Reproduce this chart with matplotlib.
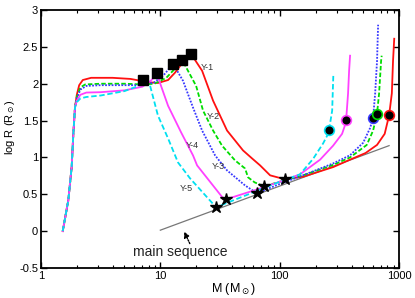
import numpy as np
import matplotlib
matplotlib.use("Agg")
import matplotlib.pyplot as plt

plt.rcParams['font.family'] = ['Liberation Sans', 'DejaVu Sans']

# ---- data (log10 of mass in Msun, log10 R in Rsun) ----
rise_logM = [0.182, 0.229, 0.257, 0.271, 0.285]
rise_logR = [0.0, 0.42, 0.87, 1.32, 1.68]

y1_logM = rise_logM + [0.30, 0.32, 0.35, 0.42, 0.60, 0.75, 0.90, 0.98, 1.065, 1.123, 1.165, 1.21, 1.257,
                       1.35, 1.442, 1.559, 1.693, 1.769, 1.836, 1.92, 2.045,
                       2.2, 2.45, 2.59, 2.72, 2.816, 2.88, 2.917, 2.94, 2.95, 2.96]
y1_logR = rise_logR + [1.85, 1.98, 2.05, 2.08, 2.08, 2.065, 2.02, 2.01, 2.05, 2.15, 2.24, 2.34, 2.405,
                       2.176, 1.77, 1.365, 1.095, 0.986, 0.892, 0.757, 0.703,
                       0.74, 0.87, 0.97, 1.06, 1.17, 1.32, 1.57, 1.87, 2.31, 2.61]

y2_logM = rise_logM + [0.30, 0.33, 0.37, 0.50, 0.70, 0.85, 0.95, 1.05, 1.12, 1.182,
                       1.30, 1.358, 1.442, 1.517, 1.626, 1.71, 1.735, 1.79, 1.869,
                       2.0, 2.2, 2.45, 2.59, 2.73, 2.783, 2.816, 2.833, 2.85, 2.855]
y2_logR = rise_logR + [1.82, 1.95, 1.99, 2.0, 2.0, 1.99, 2.0, 2.08, 2.2, 2.325,
                       1.97, 1.635, 1.365, 1.16, 0.96, 0.85, 0.73, 0.662, 0.608,
                       0.67, 0.76, 0.90, 1.0, 1.17, 1.365, 1.595, 1.865, 2.31, 2.38]

y3_logM = rise_logM + [0.30, 0.33, 0.38, 0.50, 0.70, 0.85, 0.95, 1.03, 1.107,
                       1.19, 1.274, 1.35, 1.459, 1.559, 1.71, 1.81,
                       2.0, 2.2, 2.45, 2.59, 2.70, 2.758, 2.783, 2.80, 2.816, 2.825]
y3_logR = rise_logR + [1.80, 1.92, 1.97, 1.98, 1.98, 1.98, 2.02, 2.12, 2.27,
                       2.04, 1.676, 1.365, 1.027, 0.824, 0.62, 0.514,
                       0.64, 0.76, 0.92, 1.03, 1.2, 1.4, 1.54, 1.865, 2.31, 2.80]

y4_logM = rise_logM + [0.30, 0.33, 0.38, 0.50, 0.70, 0.85, 0.92, 0.972,
                       1.006, 1.065, 1.174, 1.274, 1.308, 1.526, 1.551,
                       1.8, 2.0, 2.17, 2.339, 2.448, 2.523, 2.548, 2.557, 2.573, 2.582, 2.59]
y4_logR = rise_logR + [1.77, 1.85, 1.88, 1.885, 1.91, 1.96, 2.04, 2.135,
                       1.97, 1.70, 1.34, 1.027, 0.892, 0.446, 0.432,
                       0.56, 0.67, 0.77, 0.97, 1.16, 1.32, 1.44, 1.51, 1.865, 2.18, 2.38]

y5_logM = rise_logM + [0.30, 0.33, 0.38, 0.50, 0.70, 0.80, 0.855,
                       0.914, 0.98, 1.065, 1.148, 1.249, 1.467,
                       1.8, 2.0, 2.17, 2.28, 2.364, 2.406, 2.414, 2.44, 2.45]
y5_logR = rise_logR + [1.75, 1.80, 1.82, 1.84, 1.90, 1.96, 2.05,
                       1.973, 1.568, 1.257, 0.932, 0.716, 0.324,
                       0.54, 0.67, 0.77, 0.98, 1.19, 1.32, 1.378, 1.635, 2.135]

square_logM = [0.855, 0.972, 1.107, 1.182, 1.257]
square_logR = [2.054, 2.149, 2.27, 2.325, 2.405]

star_logM = [1.467, 1.551, 1.81, 1.869, 2.045]
star_logR = [0.324, 0.432, 0.514, 0.608, 0.703]

circle_logM = [2.414, 2.557, 2.783, 2.816, 2.917]
circle_logR = [1.378, 1.51, 1.54, 1.595, 1.57]
circle_colors = ['#00e0f0', '#ff40ff', '#3838ff', '#00dd00', '#ff1010']

ms_logM = [1.0, 2.917]
ms_logR = [0.013, 1.16]

series = [
    ('Y-1', y1_logM, y1_logR, '#ff1010', '-'),
    ('Y-2', y2_logM, y2_logR, '#00dd00', (0, (2.5, 1.2))),
    ('Y-3', y3_logM, y3_logR, '#3838ff', (0, (1, 0.8))),
    ('Y-4', y4_logM, y4_logR, '#ff40ff', '-'),
    ('Y-5', y5_logM, y5_logR, '#00e0f0', (0, (3, 1.5))),
]
label_pos = {'Y-1': (1.39, 2.216), 'Y-2': (1.44, 1.554), 'Y-3': (1.484, 0.878),
             'Y-4': (1.266, 1.16), 'Y-5': (1.215, 0.58)}

fig = plt.figure(figsize=(4.15, 2.98), dpi=100)
ax = fig.add_axes([41/415, 30/298, 358/415, 258/298])

ax.plot(10**np.array(ms_logM), ms_logR, color='#777777', lw=0.9, zorder=1)

for name, lm, lr, c, ls in series:
    ax.plot(10**np.array(lm), lr, color=c, ls=ls, lw=1.3, zorder=2)
    tx, ty = label_pos[name]
    ax.text(10**tx, ty, name, fontsize=6.5, ha='center', va='center', color='#333333', zorder=5)

ax.plot(10**np.array(square_logM), square_logR, 'ks', ms=7, zorder=4)
ax.plot(10**np.array(star_logM), star_logR, 'k*', ms=9, zorder=4)
for lm, lr, c in zip(circle_logM, circle_logR, circle_colors):
    ax.plot(10**lm, lr, 'o', mfc='k', mec=c, ms=7, mew=1.2, zorder=4)

ax.annotate('', xy=(10**1.19, 0.027), xytext=(10**1.257, -0.203),
            arrowprops=dict(arrowstyle='-|>', ls=(0, (1, 1)), color='k', lw=1, mutation_scale=8))
ax.text(10**1.165, -0.284, 'main sequence', fontsize=10, ha='center', va='center', color='#222222')

ax.set_xscale('log')
ax.set_xlim(1, 1000)
ax.set_ylim(-0.5, 3)
ax.set_xticks([1, 10, 100, 1000])
ax.set_xticklabels(['1', '10', '100', '1000'])
ax.set_yticks([-0.5, 0, 0.5, 1, 1.5, 2, 2.5, 3])
ax.set_yticklabels(['-0.5', '0', '0.5', '1', '1.5', '2', '2.5', '3'])
ax.tick_params(which='both', direction='in', top=True, right=True, labelsize=8, pad=2)
ax.tick_params(which='major', length=4, width=1)
ax.tick_params(which='minor', length=2, width=0.8)
for s in ax.spines.values():
    s.set_linewidth(1.3)

ax.set_xlabel(r'M (M$_\odot$)', fontsize=9)
ax.xaxis.set_label_coords(0.539, -0.05)
ax.set_ylabel(r'log R (R$_\odot$)', fontsize=8)
ax.yaxis.set_label_coords(-0.066, 0.547)

fig.savefig('out.png', dpi=100)
